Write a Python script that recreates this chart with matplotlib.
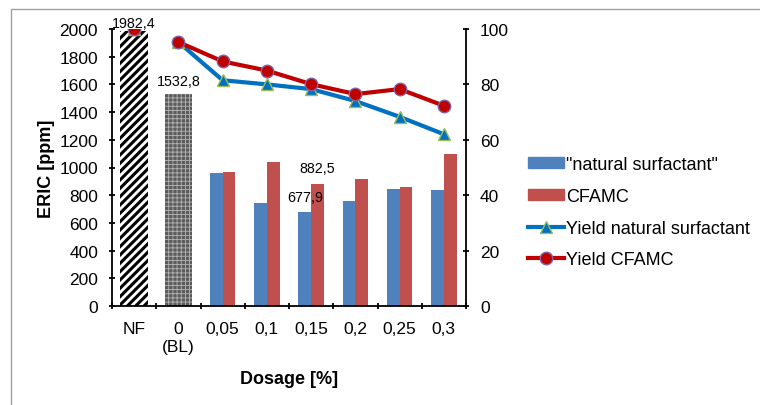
import matplotlib
matplotlib.use("Agg")
import matplotlib.pyplot as plt
from matplotlib.patches import Rectangle
from matplotlib.lines import Line2D
import numpy as np

plt.rcParams['font.family'] = ['Liberation Sans', 'DejaVu Sans']

categories = ["NF", "0\n(BL)", "0,05", "0,1", "0,15", "0,2", "0,25", "0,3"]
eric_nf = 1982.4
eric_bl = 1532.8
eric_natural = [958, 741, 677.9, 758, 842, 837]
eric_cfamc = [967, 1040, 882.5, 917, 859, 1100]
yield_natural = [100, 95.3, 81.5, 80.0, 78.3, 74.0, 68.3, 62.0]
yield_cfamc = [100, 95.3, 88.3, 85.0, 80.1, 76.5, 78.3, 72.3]

FS = 12.5
W, H = 760, 406
fig = plt.figure(figsize=(W / 100, H / 100), dpi=100)
fig.patches.append(Rectangle((11 / W, -0.1), 1.2, 1 - 10 / H + 0.1, transform=fig.transFigure,
                             fill=False, edgecolor='#a0a0a0', linewidth=1.0))
ax = fig.add_axes([112 / W, 1 - 307 / H, (466 - 112) / W, (307 - 30) / H])
ax2 = ax.twinx()

x = np.arange(len(categories))
bw = 0.29
plt.rcParams['hatch.linewidth'] = 2.2
b1 = ax.bar(x[0], eric_nf, width=0.62, color='white', edgecolor='black', hatch='////', linewidth=0)
plt.rcParams['hatch.linewidth'] = 0.6
b2 = ax.bar(x[1], eric_bl, width=0.60, color='#5c5c5c', edgecolor='#b4b4b4', hatch='++++', linewidth=0)
xd = x[2:]
bn = ax.bar(xd - bw / 2, eric_natural, width=bw, color='#4F81BD', label='"natural surfactant"')
bc = ax.bar(xd + bw / 2, eric_cfamc, width=bw, color='#C0504D', label='CFAMC')

LFS = 10.3
ax.text(x[0], eric_nf + 10, "1982,4", ha='center', va='bottom', fontsize=LFS)
ax.text(x[1], eric_bl + 40, "1532,8", ha='center', va='bottom', fontsize=LFS)
ax.text(xd[2] - bw / 2, eric_natural[2] + 60, "677,9", ha='center', va='bottom', fontsize=LFS)
ax.text(xd[2] + bw / 2, eric_cfamc[2] + 60, "882,5", ha='center', va='bottom', fontsize=LFS)

ax.set_xlim(-0.5, len(categories) - 0.5)
ax.set_ylim(0, 2000)
ax.set_yticks(np.arange(0, 2001, 200))
ax.set_xticks(np.arange(-0.5, len(categories), 1.0))
ax.set_xticklabels([])
ax.set_xticks(x, minor=True)
ax.set_xticklabels(categories, minor=True, fontsize=FS)
ax.tick_params(axis='x', which='minor', length=0, pad=11)
ax.tick_params(axis='x', which='major', direction='inout', length=5, width=1.3)
ax.tick_params(axis='y', direction='inout', length=5, width=1.3, labelsize=FS, pad=7.5)

ax2.set_ylim(0, 100)
ax2.set_yticks(np.arange(0, 101, 20))
ax2.tick_params(axis='y', direction='inout', length=5, width=1.3, labelsize=FS, pad=7.5)

for a in (ax, ax2):
    a.spines['top'].set_visible(False)
    for s in ('left', 'right', 'bottom'):
        a.spines[s].set_linewidth(1.3)
ax.spines['right'].set_visible(False)
ax2.spines['left'].set_visible(False)
ax2.spines['bottom'].set_visible(False)

MS = 9
LW = 3
# NF points are not connected to the rest
ax2.plot(x[0], yield_natural[0], marker='^', ms=MS, color='#0070C0', mec='#9BBB59', mew=1, ls='none')
ax2.plot(x[1:], yield_natural[1:], marker='^', ms=MS, color='#0070C0', lw=LW,
         mfc='#0070C0', mec='#9BBB59', mew=1)
ax2.plot(x[0], yield_cfamc[0], marker='o', ms=MS, color='#C00000', mec='#8064A2', mew=1, ls='none')
ax2.plot(x[1:], yield_cfamc[1:], marker='o', ms=MS, color='#C00000', lw=LW,
         mfc='#C00000', mec='#8064A2', mew=1)

ax.set_ylabel("ERIC [ppm]", fontsize=13, fontweight='bold', labelpad=3)
ax.set_xlabel("Dosage [%]", fontsize=13, fontweight='bold', labelpad=12)

handles = [
    Rectangle((0, 0), 1, 1, color='#4F81BD'),
    Rectangle((0, 0), 1, 1, color='#C0504D'),
    Line2D([], [], color='#0070C0', lw=LW, marker='^', ms=MS, mfc='#0070C0', mec='#9BBB59'),
    Line2D([], [], color='#C00000', lw=LW, marker='o', ms=MS, mfc='#C00000', mec='#8064A2'),
]
labels = ['"natural surfactant"', 'CFAMC', 'Yield natural surfactant', 'Yield CFAMC']
fig.legend(handles, labels, loc='upper left', bbox_to_anchor=(528 / W, 1 - 157 / H),
           frameon=False, fontsize=13, handlelength=2.0, handleheight=0.6,
           handletextpad=0.1, labelspacing=0.82, borderaxespad=0, borderpad=0)

fig.savefig("out.png", dpi=100)
